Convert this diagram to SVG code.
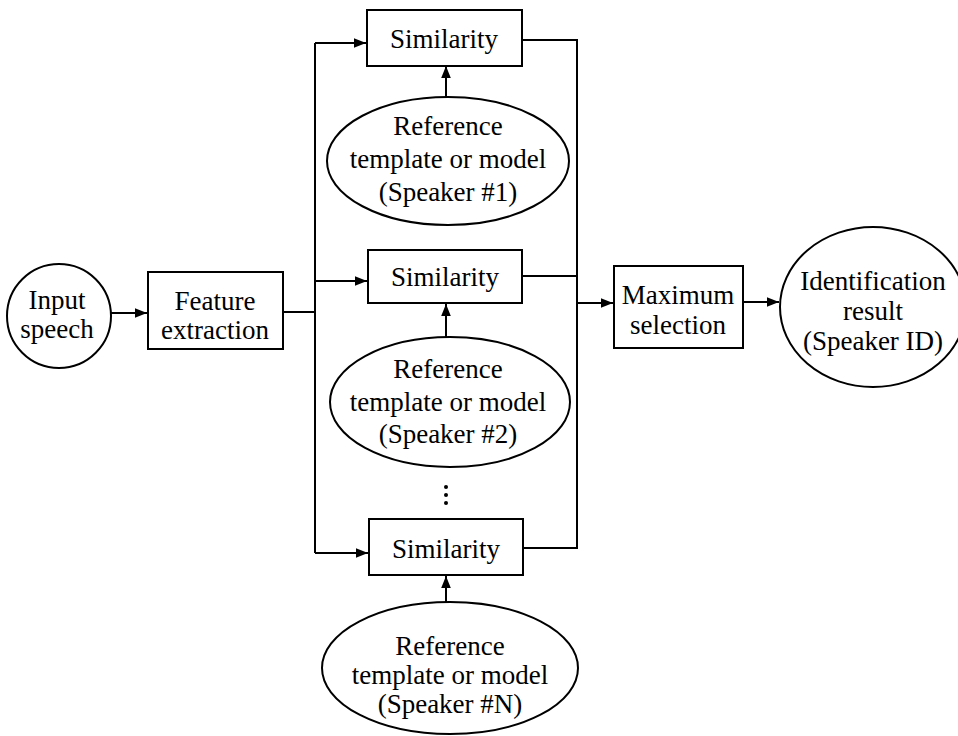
<svg xmlns="http://www.w3.org/2000/svg" width="958" height="736" viewBox="0 0 958 736">
<style>
.s{fill:#fff;stroke:#000;stroke-width:2}
.c{fill:none;stroke:#000;stroke-width:2}
text{font-family:"Liberation Serif","Times New Roman",serif;font-size:27px;text-anchor:middle;fill:#000}
</style>
<defs>
<marker id="a" viewBox="0 0 10 10" refX="10" refY="5" markerWidth="6" markerHeight="6" markerUnits="strokeWidth" orient="auto">
<path d="M0,1 L10,5 L0,9 Z" fill="#000"/>
</marker>
</defs>
<rect width="958" height="736" fill="#fff"/>
<g id="connectors">
<line class="c" x1="110" y1="313" x2="147" y2="313" marker-end="url(#a)"/>
<polyline class="c" points="283,312 315,312"/>
<polyline class="c" points="315,43 315,553"/>
<line class="c" x1="315" y1="43" x2="366" y2="43" marker-end="url(#a)"/>
<line class="c" x1="315" y1="281" x2="367" y2="281" marker-end="url(#a)"/>
<line class="c" x1="315" y1="553" x2="368" y2="553" marker-end="url(#a)"/>
<polyline class="c" points="522,40 577,40 577,548 523,548"/>
<line class="c" x1="522" y1="276" x2="577" y2="276"/>
<line class="c" x1="577" y1="303" x2="613" y2="303" marker-end="url(#a)"/>
<line class="c" x1="743" y1="302" x2="779" y2="302" marker-end="url(#a)"/>
<line class="c" x1="446" y1="97" x2="446" y2="66" marker-end="url(#a)"/>
<line class="c" x1="446" y1="337" x2="446" y2="304" marker-end="url(#a)"/>
<line class="c" x1="446" y1="602" x2="446" y2="576" marker-end="url(#a)"/>
</g>
<g id="input">
<circle class="s" cx="59" cy="316" r="52"/>
<text x="57" y="309">Input</text>
<text x="57" y="338">speech</text>
</g>
<g id="feature">
<rect class="s" x="148" y="272" width="135" height="77"/>
<text x="215" y="310">Feature</text>
<text x="215" y="339">extraction</text>
</g>
<g id="sim1">
<rect class="s" x="367" y="10" width="155" height="56"/>
<text x="444" y="48">Similarity</text>
</g>
<g id="ref1">
<ellipse class="s" cx="448" cy="161" rx="121" ry="64"/>
<text x="448" y="135">Reference</text>
<text x="448" y="168">template or model</text>
<text x="448" y="201">(Speaker #1)</text>
</g>
<g id="sim2">
<rect class="s" x="368" y="250" width="154" height="53"/>
<text x="445" y="286">Similarity</text>
</g>
<g id="ref2">
<ellipse class="s" cx="450" cy="402" rx="120" ry="65"/>
<text x="448" y="378">Reference</text>
<text x="448" y="411">template or model</text>
<text x="448" y="443">(Speaker #2)</text>
</g>
<g id="dots">
<circle cx="446" cy="487" r="2" fill="#000"/>
<circle cx="446" cy="495" r="2" fill="#000"/>
<circle cx="446" cy="503" r="2" fill="#000"/>
</g>
<g id="simN">
<rect class="s" x="369" y="519" width="154" height="56"/>
<text x="446" y="558">Similarity</text>
</g>
<g id="refN">
<ellipse class="s" cx="450" cy="668" rx="128" ry="66"/>
<text x="450" y="655">Reference</text>
<text x="450" y="684">template or model</text>
<text x="450" y="713">(Speaker #N)</text>
</g>
<g id="max">
<rect class="s" x="614" y="266" width="129" height="82"/>
<text x="678" y="304">Maximum</text>
<text x="678" y="334">selection</text>
</g>
<g id="result">
<ellipse class="s" cx="873" cy="307" rx="93" ry="80"/>
<text x="873" y="290">Identification</text>
<text x="873" y="320">result</text>
<text x="873" y="350">(Speaker ID)</text>
</g>
</svg>
